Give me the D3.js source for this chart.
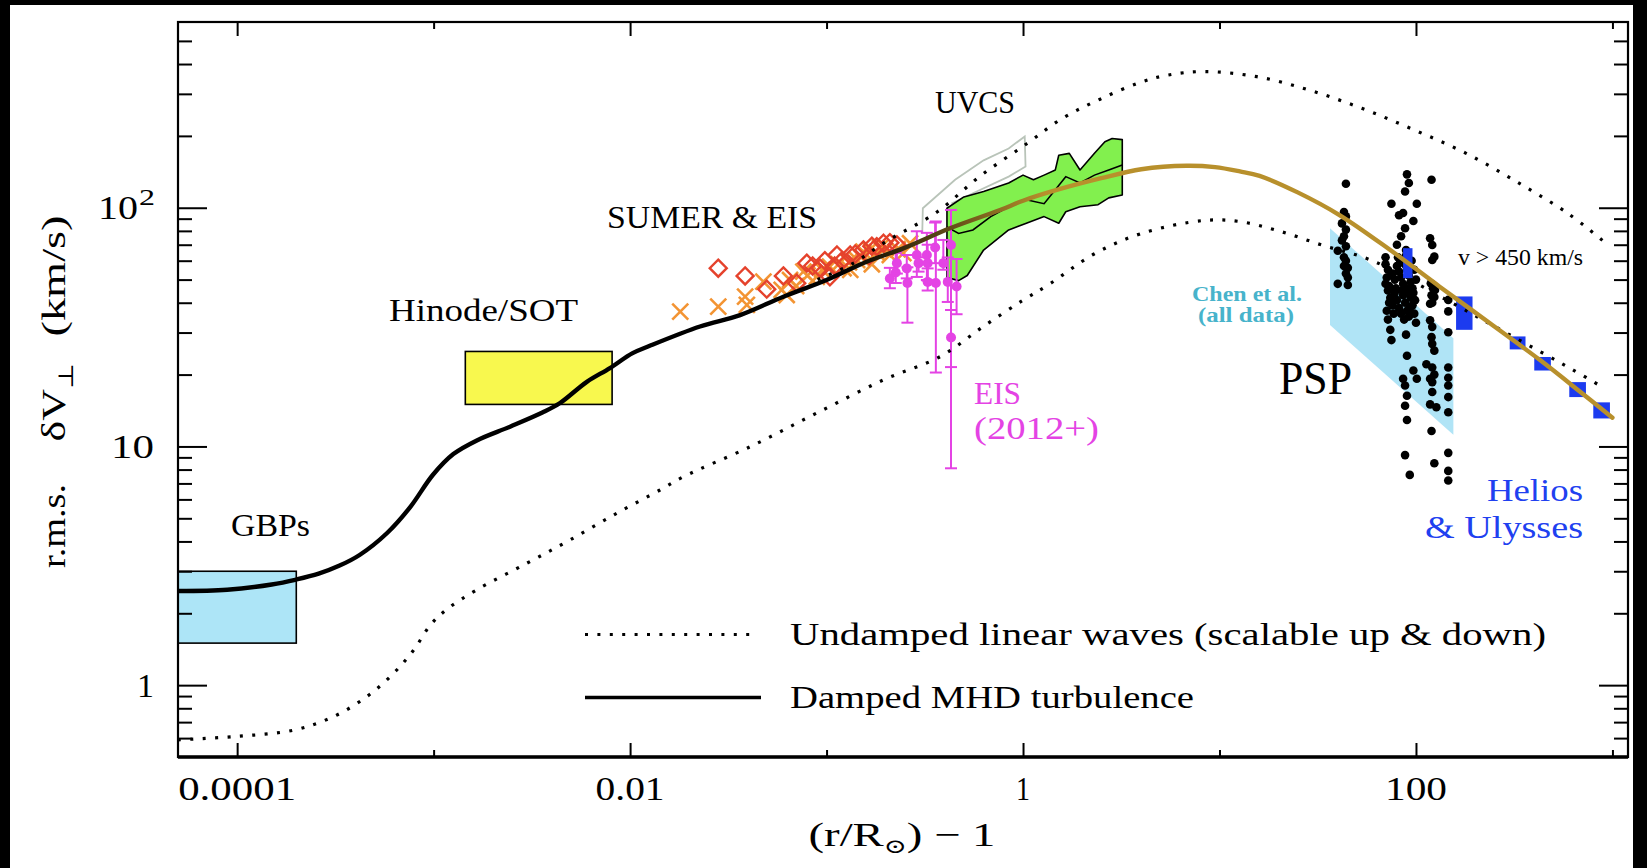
<!DOCTYPE html>
<html><head><meta charset="utf-8">
<script src="https://cdn.jsdelivr.net/npm/d3@7"></script>
<style>html,body{margin:0;padding:0;background:#000;}svg{display:block;}</style>
</head><body>
<svg id="chart" width="1647" height="868"></svg>
<script>
// ---------------- DATA ----------------
const xTicksMajor = [1e-4, 1e-2, 1, 100];
const xTickLabels = ["0.0001", "0.01", "1", "100"];
const xTicksMinor = [1e-3, 0.1, 10, 1000];
const yTicksMajor = [1, 10, 100];
const yTicksMinor = [0.6,0.7,0.8,0.9,2,3,4,5,6,7,8,9,20,30,40,50,60,70,80,90,200,300,400,500];

// Damped MHD turbulence model curve (r/Rsun - 1, km/s)
const dampedCurve = [[5e-5,2.48],[8.9e-5,2.51],[1.5e-4,2.64],[2.0e-4,2.77],[2.6e-4,2.93],[3.3e-4,3.16],
  [4.2e-4,3.51],[5.8e-4,4.34],[7.6e-4,5.57],[9.9e-4,7.59],[1.26e-3,9.29],[1.66e-3,10.6],[2.45e-3,12.1],
  [3.6e-3,13.9],[4.4e-3,15.2],[6.0e-3,18.6],[7.9e-3,21.3],[1.03e-2,24.6],[1.26e-2,26.4],[2.27e-2,31.8],
  [3.63e-2,35.5],[6.03e-2,42.4],[0.1,49.8],[0.16,59.4],[0.246,67.6],[0.425,82],[0.764,97.8],[1,107],
  [1.5,119],[2.5,133],[4,145],[6.8,150],[9.5,148],[12.7,142],[16,136],[25,116],[41,93],[74,66.5],
  [132,46.7],[238,32.8],[428,23],[700,16.7],[1000,13.2]];
// Undamped linear waves, lower and upper scalings
const lowerWave = [[5e-5,0.59],[1e-4,0.61],[1.94e-4,0.648],[3.09e-4,0.738],[4.57e-4,0.895],[6.25e-4,1.12],
  [7.9e-4,1.40],[9.6e-4,1.78],[1.17e-3,2.08],[1.66e-3,2.51],[2.98e-3,3.24],[4.95e-3,4.06],[8.56e-3,5.25],
  [1.42e-2,6.57],[1.87e-2,7.47],[4.09e-2,9.98],[8.91e-2,13.8],[0.195,19.0],[0.379,23.8],[0.628,31.8],
  [1.0,41],[1.37,48],[2.3,64],[4,78],[8.4,88.5],[12.7,87.5],[20,80],[33.7,69.5],[60,60],[143,41.1],
  [290,29.8],[632,20.9],[881,17.8]];
const upperWave = [[0.09,50],[0.134,58],[0.2,72],[0.365,96],[0.6,135],[1.04,185],[1.6,238],[2.47,285],
  [3.94,335],[5.5,360],[8.4,372],[15.5,354],[28.7,311],[53,261],[97.7,212],[180,169],[333,127],[590,95],[889,73]];

// Observation boxes
const gbpR = [5e-5, 2.0e-4], gbpV = [1.5, 3.0];
const hinodeR = [1.45e-3, 8.1e-3], hinodeV = [15, 25];

// UVCS band
const uvcsUpper = [[0.41,99.5],[0.50,111],[0.63,117],[0.845,127],[1.0,137],[1.13,131],[1.28,137],[1.46,144],
  [1.52,166],[1.72,169],[1.95,144],[2.31,169],[2.61,189],[2.84,195],[3.2,193]];
const uvcsLower = [[0.41,51],[0.47,49.5],[0.52,52],[0.63,66.5],[0.845,80.7],[1.04,86.1],[1.28,91.8],
  [1.52,86.1],[1.65,96.2],[1.95,101],[2.41,103],[2.73,110],[3.2,113]];
const uvcsMid = [[0.41,83],[0.47,78],[0.556,80.7],[0.685,91.8],[0.845,101],[1.04,108],[1.28,104],
  [1.65,135],[1.95,127],[2.31,137],[2.73,144],[3.2,151]];
const uvcsOutline = [[0.307,78.2],[0.309,99.5],[0.451,131],[0.63,158],[0.845,177],[1.02,199],[1.03,149],
  [0.845,135],[0.556,115],[0.432,104]];

// SUMER & EIS
const sumerCross = [[0.0180,36.7],[0.0281,38.5],[0.0385,42.4],[0.0393,39.2],[0.0477,49.0],[0.0591,45.3],
  [0.0627,43.1],[0.0652,49.8],[0.0762,54.0],[0.0892,51.4],[0.104,56.7],[0.122,55.8],[0.132,54.9],
  [0.143,60.4],[0.154,65.5],[0.166,66.6],[0.187,67.7],[0.210,63.4],[0.246,64.5],[0.266,71.0],[0.07,47],
  [0.08,52],[0.095,55],[0.115,58],[0.13,59],[0.15,62],[0.18,65],[0.2,68],[0.23,67],[0.17,58]];
const sumerDiamond = [[0.0281,55.8],[0.0385,51.8],[0.0496,45.6],[0.0603,51.8],[0.0705,48.3],[0.0793,58.6],
  [0.0927,55.8],[0.104,51.4],[0.113,63.4],[0.132,63.4],[0.154,66.6],[0.180,68.7],[0.195,71.0],[0.210,71.4],
  [0.228,69.9],[0.085,57],[0.098,60],[0.12,60],[0.14,64],[0.165,63],[0.17,69],[0.11,57]];

// EIS (2012+)
const eisR  = [0.21,0.225,0.228,0.256,0.258,0.288,0.294,0.324,0.327,0.327,0.357,0.360,0.393,0.414,0.430,0.430,0.459];
const eisV  = [50.5,53.5,58.6,55.7,48.4,63.4,58.6,63.4,58.6,48.9,68.2,48.4,58.6,48.9,69.8,28.6,46.8];
const eisLo = [46,48.4,53,50.6,33,51.3,54,49.8,49.5,45,58.6,20.4,55,40.3,21.5,8.1,35.8];
const eisHi = [56,64.6,66,63.4,56.3,79.7,62,78.5,70,55.7,86.7,87.6,73.3,61.9,97.9,37.3,61];

// PSP (Chen et al.) band and points
const pspBandR = [36.5, 155], pspBandTop = [82, 28.4], pspBandBottom = [32.3, 11.2];
const pspPoints = [
  [44,126],[43,96],[44,92],[42,86],[44,81],[43,76],[42,73],[44,69],[40,66],[43,62],[44,60],[43,57],[45,56],
  [44,53],[45,51],[40,48],[45,47.5],
  [90,138],[92,127],[88,117],[75,104],[101,104],[86,95],[82,93],[97,88],[88,82],[84,76],[80,70],[89,66.5],
  [70,62],[86,60],
  [70,58],[72,55],[75,52],[78,50],[80,57],[82,54],[84,51],[86,48],[88,58],[90,55],[92,52],[94,49],[96,46],
  [98,55],[100,50],[70,48],[72,45],[74,42],[76,39],[78,44],[80,41],[82,38],[84,36],[86,43],[88,40],[90,37],
  [92,35],[94,42],[96,39],[98,36],[100,33],[71,51],[73,47],[79,46],[85,45],[91,46],[97,44],[73,40],[87,34],
  [93,38],[99,41],[76,53],[83,59],[95,60],[89,63],[81,62],[77,36],[71,37],[72,34],[89,44],
  [74,30.8],[75,27.9],[89,29.4],[90,24],[97,20.8],[86,19.2],[101,19.2],[88,18],[90,16.3],[88,14.8],
  [90,12.9],[88,9.2],[93,7.6],
  [120,131],[118,74.5],[121,69.8],[124,62.4],[121,60.4],[119,48.3],[122,46],[125,45.2],[120,43],[124,42.3],
  [121,40],[118,39.6],[118,33.8],[121,31.7],[120,28.7],[121,26.9],[124,25.2],[113,22.1],[121,21.4],[124,20],
  [118,19.2],[121,18.6],[121,16.9],[118,15],[127,14.6],[120,11.6],[124,8.5],
  [146,41.1],[146,36.8],[146,30.1],[146,21.4],[146,19.4],[146,18],[146,16.1],[146,13.9],[146,9.4],[146,7.9],[146,7.2]];

// Helios & Ulysses (v > 450 km/s)
const heliosRLo = [86,160,300,400,603,799];
const heliosRHi = [96,194,361,486,733,971];
const heliosVLo = [50.7,30.8,25.5,20.8,16.1,13.1];
const heliosVHi = [67.7,42.5,28.9,23.7,18.6,15.3];

// ---------------- DRAWING ----------------
const W = 1647, H = 868;
const L = 178, R = 1628, T = 22, B = 757;
const svg = d3.select("#chart");
const x = d3.scaleLog().domain([5e-5, 1200]).range([L, R]);
const y = d3.scaleLog().domain([0.5, 600]).range([B, T]);
const FONT = "'Liberation Serif','DejaVu Serif',serif";

svg.append("rect").attr("width", W).attr("height", H).attr("fill", "#000");
svg.append("rect").attr("x", 10).attr("y", 5).attr("width", 1623).attr("height", H - 5).attr("fill", "#fff");

const defs = svg.append("defs");
defs.append("clipPath").attr("id", "plotClip").append("rect")
  .attr("x", L).attr("y", T).attr("width", R - L).attr("height", B - T);
const grad = defs.append("linearGradient").attr("id", "dampGrad").attr("gradientUnits", "userSpaceOnUse")
  .attr("x1", x(0.12)).attr("x2", x(1.3)).attr("y1", 0).attr("y2", 0);
grad.append("stop").attr("offset", 0).attr("stop-color", "#000");
grad.append("stop").attr("offset", 1).attr("stop-color", "#B8902C");

const plot = svg.append("g").attr("clip-path", "url(#plotClip)");
const line = d3.line().x(d => x(d[0])).y(d => y(d[1]));
const smooth = d3.line().x(d => x(d[0])).y(d => y(d[1])).curve(d3.curveCatmullRom.alpha(0.5));

// boxes
plot.append("rect").attr("x", x(gbpR[0])).attr("y", y(gbpV[1]))
  .attr("width", x(gbpR[1]) - x(gbpR[0])).attr("height", y(gbpV[0]) - y(gbpV[1]))
  .attr("fill", "#ADE5F7").attr("stroke", "#000").attr("stroke-width", 1.6);
plot.append("rect").attr("x", x(hinodeR[0])).attr("y", y(hinodeV[1]))
  .attr("width", x(hinodeR[1]) - x(hinodeR[0])).attr("height", y(hinodeV[0]) - y(hinodeV[1]))
  .attr("fill", "#F8F84E").attr("stroke", "#000").attr("stroke-width", 1.6);

// UVCS outline & band
plot.append("path").attr("d", line(uvcsOutline)).attr("fill", "none")
  .attr("stroke", "#B9C4B9").attr("stroke-width", 1.8);
plot.append("path").attr("d", line(uvcsUpper.concat(uvcsLower.slice().reverse())) + "Z")
  .attr("fill", "#82F04E").attr("stroke", "#000").attr("stroke-width", 1.6).attr("stroke-linejoin", "round");
plot.append("path").attr("d", line(uvcsMid)).attr("fill", "none").attr("stroke", "#000").attr("stroke-width", 1.6);

// SUMER crosses & diamonds
plot.selectAll(".cross").data(sumerCross).join("path")
  .attr("transform", d => `translate(${x(d[0])},${y(d[1])})`)
  .attr("d", "M-8,-8L8,8M-8,8L8,-8").attr("stroke", "#F39433").attr("stroke-width", 2.6).attr("fill", "none");
plot.selectAll(".diam").data(sumerDiamond).join("path")
  .attr("transform", d => `translate(${x(d[0])},${y(d[1])})`)
  .attr("d", "M0,-8.5L8.5,0L0,8.5L-8.5,0Z").attr("stroke", "#E5422C").attr("stroke-width", 2.4).attr("fill", "none");

// EIS 2012+
const MAG = "#E443E4";
const eisG = plot.append("g").attr("stroke", MAG).attr("stroke-width", 2);
eisR.forEach((r, i) => {
  const cx = x(r);
  eisG.append("line").attr("x1", cx).attr("x2", cx).attr("y1", y(eisLo[i])).attr("y2", y(eisHi[i]));
  eisG.append("line").attr("x1", cx - 6).attr("x2", cx + 6).attr("y1", y(eisLo[i])).attr("y2", y(eisLo[i]));
  eisG.append("line").attr("x1", cx - 6).attr("x2", cx + 6).attr("y1", y(eisHi[i])).attr("y2", y(eisHi[i]));
  eisG.append("circle").attr("cx", cx).attr("cy", y(eisV[i])).attr("r", 5).attr("fill", MAG).attr("stroke", "none");
});

// PSP band
plot.append("path").attr("d", line([[pspBandR[0], pspBandTop[0]], [pspBandR[1], pspBandTop[1]],
  [pspBandR[1], pspBandBottom[1]], [pspBandR[0], pspBandBottom[0]]]) + "Z").attr("fill", "#B0E4F6");

// PSP points
plot.selectAll(".psp").data(pspPoints).join("circle")
  .attr("cx", d => x(d[0])).attr("cy", d => y(d[1])).attr("r", 4.3).attr("fill", "#000");

// Helios
plot.selectAll(".hel").data(heliosRLo).join("rect")
  .attr("x", (d, i) => x(heliosRLo[i])).attr("y", (d, i) => y(heliosVHi[i]))
  .attr("width", (d, i) => x(heliosRHi[i]) - x(heliosRLo[i]))
  .attr("height", (d, i) => y(heliosVLo[i]) - y(heliosVHi[i]))
  .attr("fill", "#1C3BEF");

// curves
plot.append("path").attr("d", smooth(lowerWave)).attr("fill", "none").attr("stroke", "#000")
  .attr("stroke-width", 3.2).attr("stroke-dasharray", "3,9.4");
plot.append("path").attr("d", smooth(upperWave)).attr("fill", "none").attr("stroke", "#000")
  .attr("stroke-width", 3.2).attr("stroke-dasharray", "3,9.4");
plot.append("path").attr("d", smooth(dampedCurve)).attr("fill", "none").attr("stroke", "url(#dampGrad)")
  .attr("stroke-width", 4.4).attr("stroke-linecap", "round");

// ---------------- AXES ----------------
function styleAxis(g) { g.select(".domain").remove(); g.selectAll("line").attr("stroke", "#000").attr("stroke-width", 2); g.selectAll("text").remove(); }
svg.append("g").attr("transform", `translate(0,${B})`).call(d3.axisBottom(x).tickValues(xTicksMajor).tickSize(-14)).call(styleAxis);
svg.append("g").attr("transform", `translate(0,${B})`).call(d3.axisBottom(x).tickValues(xTicksMinor).tickSize(-7)).call(styleAxis);
svg.append("g").attr("transform", `translate(0,${T})`).call(d3.axisTop(x).tickValues(xTicksMajor).tickSize(-14)).call(styleAxis);
svg.append("g").attr("transform", `translate(0,${T})`).call(d3.axisTop(x).tickValues(xTicksMinor).tickSize(-7)).call(styleAxis);
svg.append("g").attr("transform", `translate(${L},0)`).call(d3.axisLeft(y).tickValues(yTicksMajor).tickSize(-29)).call(styleAxis);
svg.append("g").attr("transform", `translate(${L},0)`).call(d3.axisLeft(y).tickValues(yTicksMinor).tickSize(-14)).call(styleAxis);
svg.append("g").attr("transform", `translate(${R},0)`).call(d3.axisRight(y).tickValues(yTicksMajor).tickSize(-29)).call(styleAxis);
svg.append("g").attr("transform", `translate(${R},0)`).call(d3.axisRight(y).tickValues(yTicksMinor).tickSize(-14)).call(styleAxis);
svg.append("rect").attr("x", L).attr("y", T).attr("width", R - L).attr("height", B - T)
  .attr("fill", "none").attr("stroke", "#000").attr("stroke-width", 2.2);
svg.append("line").attr("x1", L).attr("x2", R).attr("y1", B).attr("y2", B).attr("stroke", "#000").attr("stroke-width", 3.4);

// tick labels
const xLabW = {"0.0001": 118, "0.01": 69, "1": 14, "100": 62};
xTicksMajor.forEach((v, i) => {
  svg.append("text").attr("x", x(v)).attr("y", 800).attr("text-anchor", "middle")
    .attr("font-family", FONT).attr("font-size", 34).attr("textLength", xLabW[xTickLabels[i]])
    .attr("lengthAdjust", "spacingAndGlyphs").text(xTickLabels[i]);
});
svg.append("text").attr("x", 154).attr("y", y(1) + 11.5).attr("text-anchor", "end")
  .attr("font-family", FONT).attr("font-size", 34).text("1");
svg.append("text").attr("x", 111).attr("y", y(10) + 11.5)
  .attr("font-family", FONT).attr("font-size", 34).attr("textLength", 43).attr("lengthAdjust", "spacingAndGlyphs").text("10");
svg.append("text").attr("x", 98).attr("y", y(100) + 11.5)
  .attr("font-family", FONT).attr("font-size", 34).attr("textLength", 40).attr("lengthAdjust", "spacingAndGlyphs").text("10");
svg.append("text").attr("x", 139).attr("y", y(100) - 3)
  .attr("font-family", FONT).attr("font-size", 24).attr("textLength", 16).attr("lengthAdjust", "spacingAndGlyphs").text("2");

// axis titles
const xt = svg.append("text").attr("x", 902).attr("y", 846).attr("text-anchor", "middle")
  .attr("font-family", FONT).attr("font-size", 34).attr("textLength", 187).attr("lengthAdjust", "spacingAndGlyphs");
xt.append("tspan").text("(r/R");
xt.append("tspan").attr("dy", 7).attr("font-size", 20).text("⊙");
xt.append("tspan").attr("dy", -7).text(")  −  1");

// y title in three word groups
function yTitlePart(cy, len) {
  return svg.append("text").attr("transform", `translate(65,${cy}) rotate(-90)`).attr("text-anchor", "middle")
    .attr("font-family", FONT).attr("font-size", 33).attr("textLength", len).attr("lengthAdjust", "spacingAndGlyphs");
}
yTitlePart(526, 84).text("r.m.s.");
const ytv = yTitlePart(402, 79);
ytv.append("tspan").text("δV");
ytv.append("tspan").attr("dy", 8).attr("font-size", 21).text("⊥");
yTitlePart(276, 121).text("(km/s)");

// annotations
function label(txt, lx, ly, w, size, color, extra) {
  const t = svg.append("text").attr("x", lx).attr("y", ly).attr("font-family", (extra && extra.family) || FONT)
    .attr("font-size", size).attr("fill", color).attr("textLength", w).attr("lengthAdjust", "spacingAndGlyphs").text(txt);
  if (extra && extra.bold) t.attr("font-weight", "bold");
  return t;
}
label("GBPs", 231, 536, 79, 31, "#000");
label("Hinode/SOT", 389, 321, 189, 31, "#000");
label("SUMER & EIS", 607, 228, 210, 31, "#000");
label("UVCS", 935, 113, 80, 31, "#000");
label("EIS", 974, 404, 47, 31, MAG);
label("(2012+)", 974, 439, 125, 31, MAG);
label("Chen et al.", 1192, 301, 110, 21, "#47B3CB", {bold: true, family: "'Liberation Serif',serif"});
label("(all data)", 1198, 322, 96, 21, "#47B3CB", {bold: true, family: "'Liberation Serif',serif"});
label("PSP", 1279, 394, 73, 47, "#000", {family: "'Liberation Serif',serif"});
label("v > 450 km/s", 1458, 265, 125, 24, "#000", {family: "'Liberation Serif',serif"});
label("Helios", 1487, 501, 96, 31, "#2040F0");
label("& Ulysses", 1425, 538, 158, 31, "#2040F0");

// legend
svg.append("line").attr("x1", 585).attr("x2", 758).attr("y1", 634.5).attr("y2", 634.5)
  .attr("stroke", "#000").attr("stroke-width", 3.2).attr("stroke-dasharray", "3,9.4");
svg.append("line").attr("x1", 585).attr("x2", 761).attr("y1", 697.5).attr("y2", 697.5)
  .attr("stroke", "#000").attr("stroke-width", 3.6);
label("Undamped linear waves (scalable up & down)", 790, 645, 756, 31, "#000");
label("Damped MHD turbulence", 790, 708, 404, 31, "#000");
</script>
</body></html>
